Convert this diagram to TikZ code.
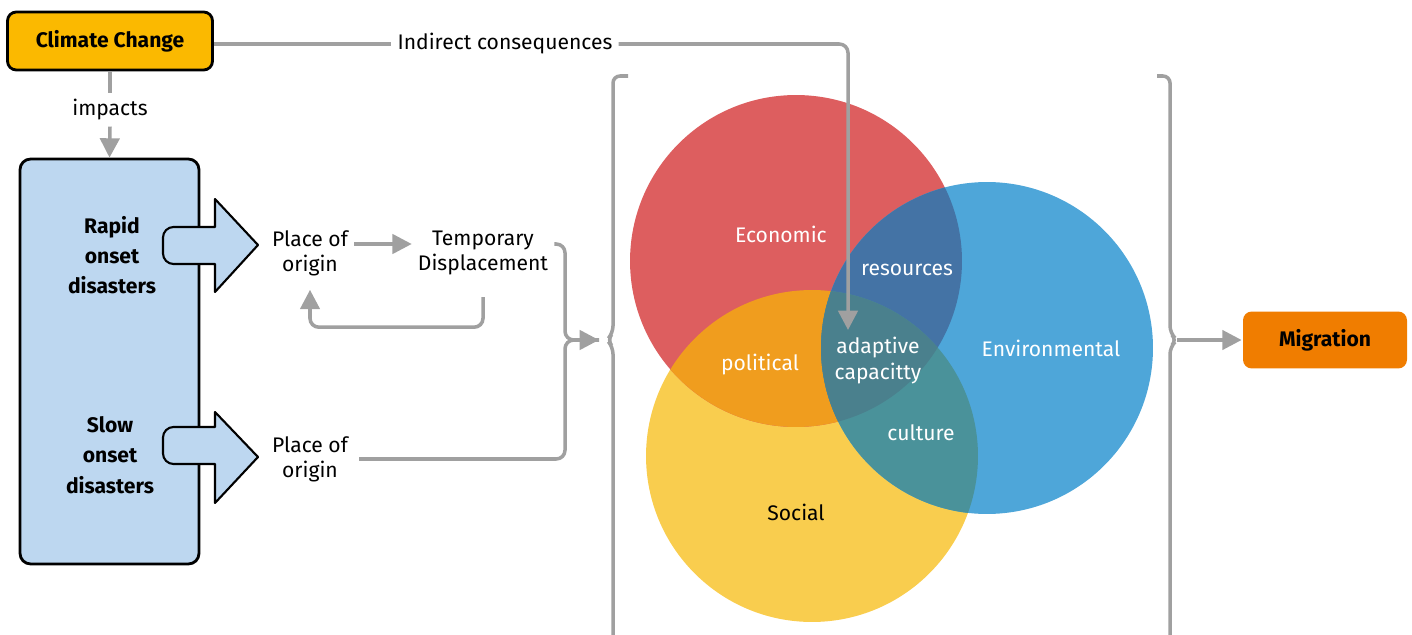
\documentclass[tikz,border=0pt]{standalone}
\usepackage{fontspec}
\setmainfont{Fira Sans}
\usetikzlibrary{positioning,calc,arrows.meta}

\definecolor{ccorange}{HTML}{FBB900}
\definecolor{migorange}{HTML}{F07D00}
\definecolor{disblue}{HTML}{BDD7F0}
\definecolor{linegray}{HTML}{A0A0A0}
\definecolor{ecored}{HTML}{DD5E5F}
\definecolor{envblue}{HTML}{4EA6D9}
\definecolor{socyellow}{HTML}{F9CD4E}
\definecolor{ecosoc}{HTML}{F09D1E}
\definecolor{ecoenv}{HTML}{4473A5}
\definecolor{envsoc}{HTML}{4A929A}
\definecolor{allthree}{HTML}{4A808D}

\tikzset{
  conn/.style={draw=linegray, line width=2pt, rounded corners=5pt},
  tip/.style={-{Triangle[length=11pt,width=11pt]}},
  keybox/.style={draw=black, line width=1.6pt, rounded corners=5pt, font=\fontsize{12}{14}\selectfont\bfseries},
  plain/.style={align=center, font=\fontsize{12}{14.2}\selectfont},
  vlabel/.style={align=center, text=white, font=\fontsize{12}{14.8}\selectfont},
  blk/.style={fill=disblue, draw=black, line width=1.2pt, line join=round}
}

\begin{document}
\begin{tikzpicture}[x=0.02cm, y=-0.02cm]
\useasboundingbox (0,0) rectangle (1412,635);
% Venn radius, cm
\pgfmathsetmacro{\rv}{3.32}

% Top: climate change and its impacts
\node[keybox, fill=ccorange, minimum width=4.1cm, minimum height=1.16cm] (cc) at (110,41) {Climate Change};
\node[plain] (imp) at (110,110) {impacts};
\node[keybox, fill=disblue, minimum width=3.58cm, minimum height=8.1cm, rounded corners=6pt] (dis) at (109.5,361.5) {};
\node[keybox, draw=none, align=center, font=\fontsize{12}{17.2}\selectfont\bfseries] (rapid) at (112,255) {Rapid\\onset\\disasters};
\node[keybox, draw=none, align=center, font=\fontsize{12}{17.2}\selectfont\bfseries] (slow) at (110,455) {Slow\\onset\\disasters};

\draw[conn] (cc.south) -- (imp.north);
\draw[conn, tip] (imp.south) -- (dis.north);

% Block arrows out of the disasters box
\draw[blk] (215,199) -- (258,245) -- (215,292) -- (215,264) [rounded corners=6pt] -- (163,264) -- (163,227) [sharp corners] -- (215,227) -- cycle;
\draw[blk] (215,412) -- (258,457) -- (215,503) -- (215,464) [rounded corners=6pt] -- (163,464) -- (163,427) [sharp corners] -- (215,427) -- cycle;

% Places and displacement
\node[plain] (po1) at (310,253) {Place of\\origin};
\node[plain] (temp) at (483,253) {Temporary\\Displacement};
\node[plain] (po2) at (310,459) {Place of\\origin};

\coordinate (join) at (565,340);
\coordinate (vin) at (599,340);

\draw[conn, tip] ([yshift=0.18cm]po1.east) -- ([yshift=0.18cm]temp.west);
\draw[conn, tip] ($(temp.south)+(0,16)$) -- ++(0,30) -| ($(po1.south)+(0,8)$);
\draw[conn, tip] ([yshift=0.18cm]temp.east) -| (join) -- (vin);
\draw[conn] ([xshift=0.1cm]po2.east) -| (join) -- (vin);

% Venn diagram
\coordinate (eco) at (796,261);
\coordinate (env) at (987,348);
\coordinate (soc) at (812,456);

\fill[socyellow] (soc) circle[radius=\rv cm];
\fill[ecored] (eco) circle[radius=\rv cm];
\fill[envblue] (env) circle[radius=\rv cm];
\begin{scope}
\clip (eco) circle[radius=\rv cm];
\fill[ecosoc] (soc) circle[radius=\rv cm];
\fill[ecoenv] (env) circle[radius=\rv cm];
\end{scope}
\begin{scope}
\clip (env) circle[radius=\rv cm];
\fill[envsoc] (soc) circle[radius=\rv cm];
\clip (soc) circle[radius=\rv cm];
\fill[allthree] (eco) circle[radius=\rv cm];
\end{scope}

\node[vlabel] (econ) at (781,234) {Economic};
\node[vlabel] (res) at (907,270) {resources};
\node[vlabel] (pol) at (760,365) {political};
\node[vlabel] (adapt) at (878,361) {adaptive\\capacitty};
\node[vlabel] (envl) at (1051,348) {Environmental};
\node[vlabel] (cult) at (921,433) {culture};
\node[plain] (socl) at (796,512) {Social};

% Indirect consequences
\node[plain, fill=white] (ind) at (505,44) {Indirect consequences};
\coordinate (acin) at (848,330);
\draw[conn] (cc.east |- ind) -- (ind.west);
\draw[conn, tip] (ind.east) -| (acin);

% Brackets round the Venn diagram
\draw[conn, rounded corners=4pt] (628,76) -- (613,76) -- (613,333) -- (607,340) -- (613,347) -- (613,635);
\draw[conn, rounded corners=4pt] (1157,76) -- (1170,76) -- (1170,333) -- (1177,340) -- (1170,347) -- (1170,635);
\coordinate (bout) at (1177,340);

% Result
\node[keybox, draw=none, fill=migorange, minimum width=3.28cm, minimum height=1.14cm] (mig) at (1325,340) {Migration};
\draw[conn, tip] (bout) -- (mig.west);
\end{tikzpicture}
\end{document}
